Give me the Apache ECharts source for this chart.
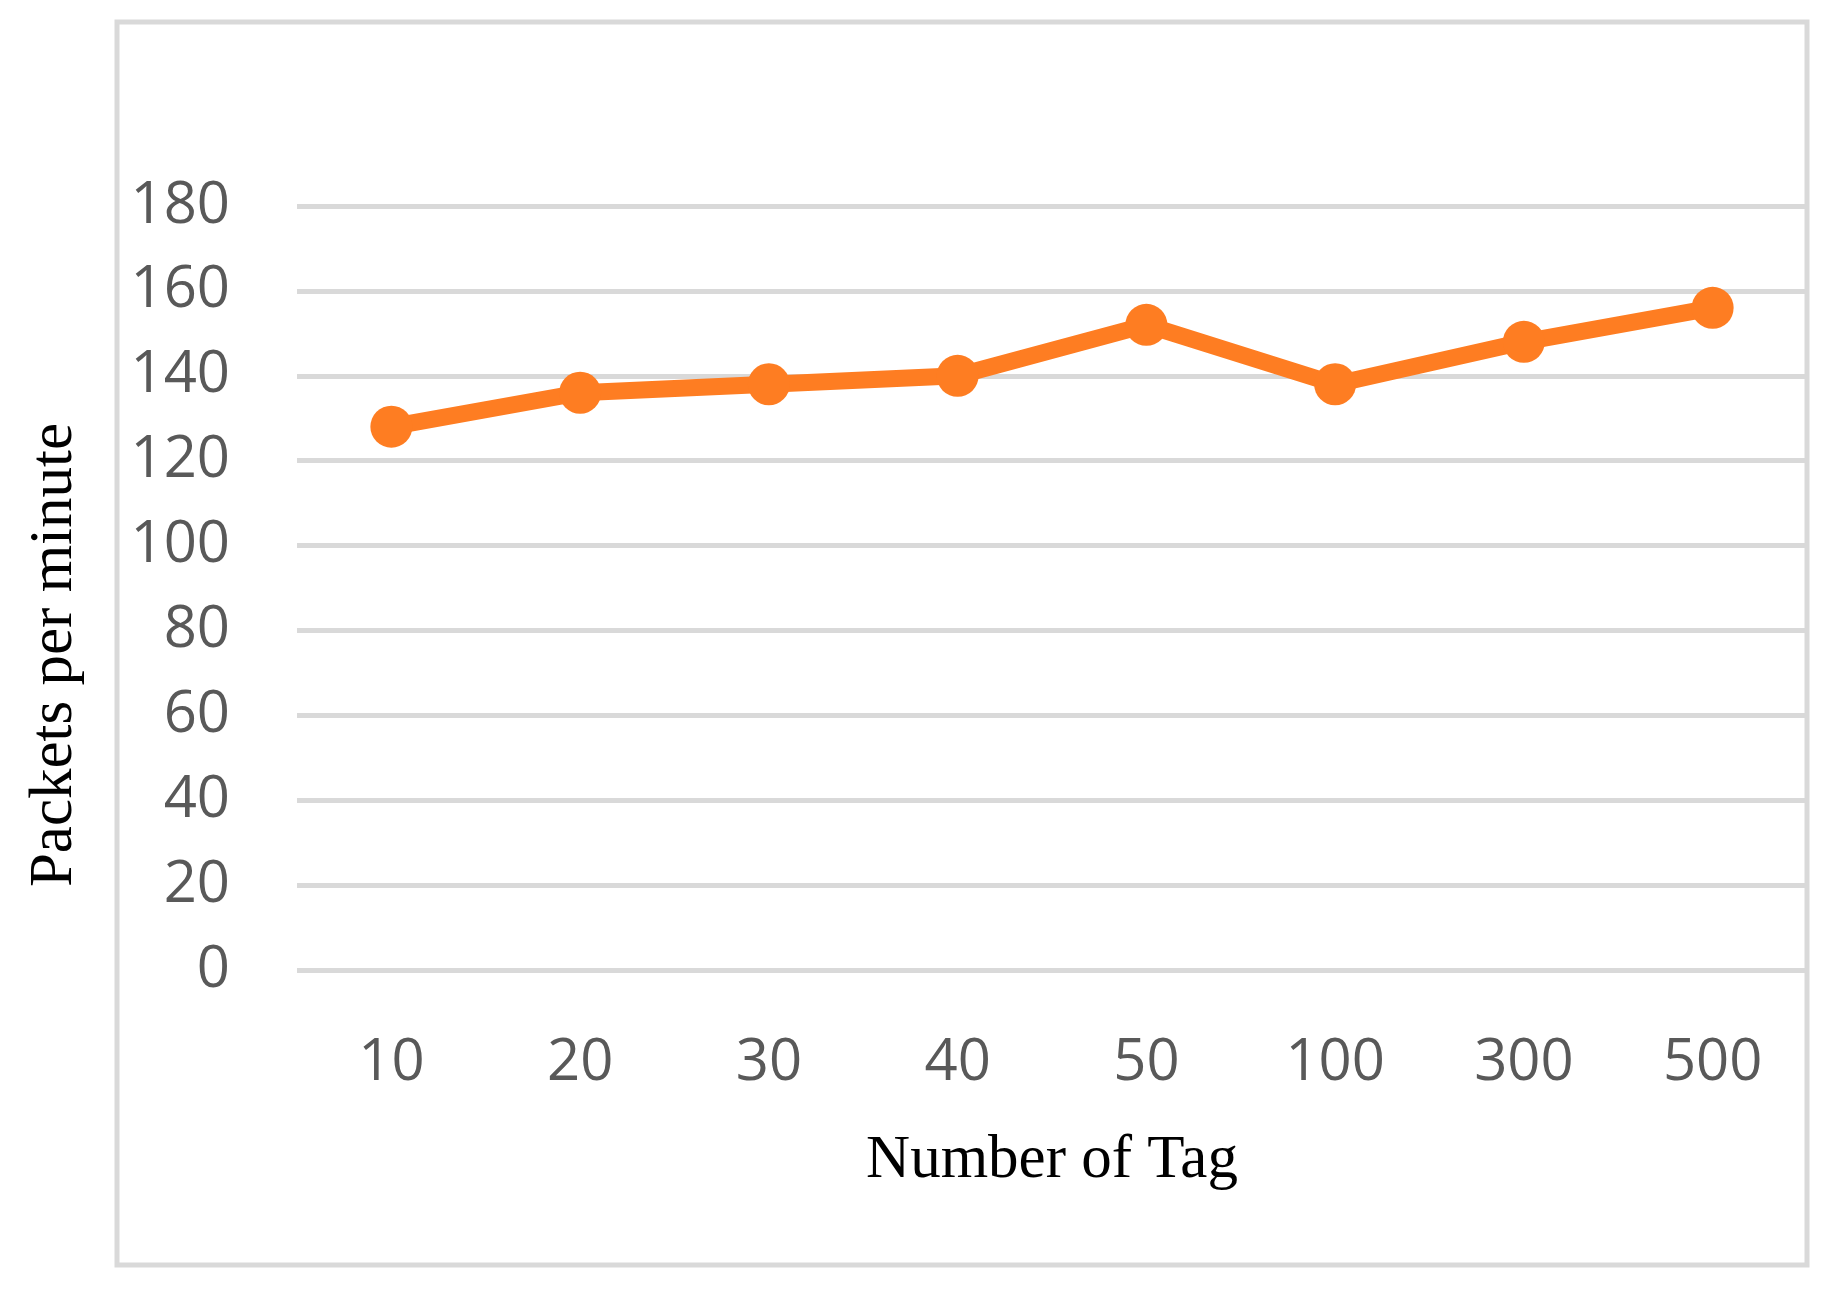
<!DOCTYPE html>
<html>
<head>
<meta charset="utf-8">
<script src="https://cdn.jsdelivr.net/npm/echarts@6/dist/echarts.min.js"></script>
<style>
html,body{margin:0;padding:0;background:#fff;}
#chart{width:1831px;height:1291px;}
</style>
</head>
<body>
<div id="chart"></div>
<script>
const categories = ['10', '20', '30', '40', '50', '100', '300', '500'];
const packetsPerMinute = [128, 136, 138, 140, 152, 138, 148, 156];
const yTicks = { min: 0, max: 180, interval: 20 };
const xTitle = 'Number of Tag';
const yTitle = 'Packets per minute';

const chart = echarts.init(document.getElementById('chart'), null, { renderer: 'canvas' });
chart.setOption({
  backgroundColor: '#ffffff',
  animation: false,
  grid: { left: 297, right: 24, top: 206, bottom: 321, containLabel: false },
  graphic: [
    {
      type: 'rect',
      shape: { x: 117, y: 22, width: 1690, height: 1243 },
      style: { fill: 'none', stroke: '#d9d9d9', lineWidth: 5 },
      z: -10
    },
    {
      type: 'text',
      x: 55, y: 655,
      rotation: Math.PI / 2,
      style: {
        text: yTitle,
        font: '61px "Liberation Serif", "Times New Roman", serif',
        fill: '#000000',
        textAlign: 'center',
        textVerticalAlign: 'middle'
      }
    }
  ],
  xAxis: {
    type: 'category',
    data: categories,
    boundaryGap: true,
    name: xTitle,
    nameLocation: 'middle',
    nameGap: 160,
    nameTextStyle: { fontFamily: '"Liberation Serif", "Times New Roman", serif', fontSize: 61, color: '#000000' },
    axisLine: { show: false },
    axisTick: { show: false },
    axisLabel: { fontFamily: '"Open Sans", "Liberation Sans", sans-serif', fontSize: 58, color: '#595959', margin: 64 },
    splitLine: { show: false }
  },
  yAxis: {
    type: 'value',
    min: yTicks.min,
    max: yTicks.max,
    interval: yTicks.interval,
    axisLine: { show: false },
    axisTick: { show: false },
    axisLabel: { fontFamily: '"Open Sans", "Liberation Sans", sans-serif', fontSize: 58, color: '#595959', margin: 67, padding: [18, 0, 0, 0] },
    splitLine: { show: true, lineStyle: { color: '#d9d9d9', width: 5 } }
  },
  series: [{
    type: 'line',
    data: packetsPerMinute,
    symbol: 'circle',
    symbolSize: 42,
    lineStyle: { color: '#fe7d22', width: 17 },
    itemStyle: { color: '#fe7d22' },
    z: 5
  }]
});
</script>
</body>
</html>
